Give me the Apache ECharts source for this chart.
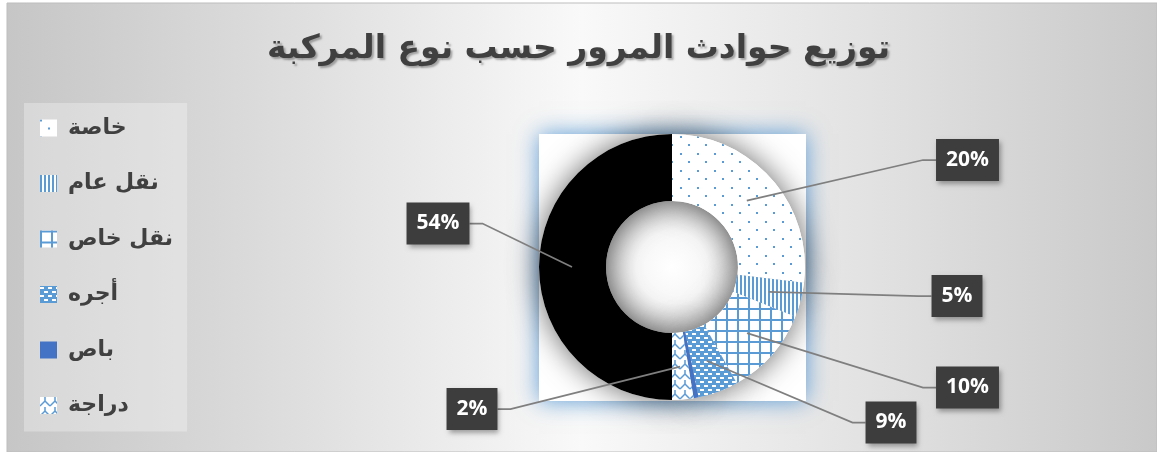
<!DOCTYPE html>
<html>
<head>
<meta charset="utf-8">
<script src="https://cdn.jsdelivr.net/npm/echarts@6/dist/echarts.min.js"></script>
<style>
html,body{margin:0;padding:0;background:#fff;}
#chart{width:1157px;height:452px;}
</style>
</head>
<body>
<div id="chart"></div>
<script>
// ---- data ----
const categories = ['خاصة', 'نقل عام', 'نقل خاص', 'أجره', 'باص', 'دراجة', 'أخرى'];
// slice sizes as drawn (share of the ring, %)
const shares = [26.9, 4.2, 10.8, 4.9, 0.6, 2.6, 50];
// percentage labels as printed on the chart
const labelTexts = ['20%', '5%', '10%', '9%', '', '2%', '54%'];
const legendNames = ['خاصة', 'نقل عام', 'نقل خاص', 'أجره', 'باص', 'دراجة'];
const titleText = 'توزيع حوادث المرور حسب نوع المركبة';

// ---- layout / style config ----
const CX = 672, CY = 267, R_IN = 66, R_OUT = 133, LINE_R = 100;
const labelSpots = [[967.5, 160], [957, 296], [967.5, 387.5], [891, 422.5], null, [472, 409], [438, 223.5]];
const BLUE = '#5b9bd5';

function tile(w, h, draw) {
  const c = document.createElement('canvas');
  c.width = w; c.height = h;
  const g = c.getContext('2d');
  draw(g, w, h);
  return c;
}
const patDots = tile(17, 17, (g, w, h) => {
  g.fillStyle = '#fff'; g.fillRect(0, 0, w, h);
  g.fillStyle = BLUE; g.fillRect(0, 0, 2, 2); g.fillRect(8, 8, 2, 2);
});
const patVert = tile(4, 4, (g, w, h) => {
  g.fillStyle = '#fff'; g.fillRect(0, 0, w, h);
  g.fillStyle = BLUE; g.fillRect(0, 0, 2, h);
});
const patGrid = tile(11, 11, (g, w, h) => {
  g.fillStyle = '#fff'; g.fillRect(0, 0, w, h);
  g.fillStyle = BLUE; g.fillRect(0, 0, 2, h); g.fillRect(0, 0, w, 2);
});
const patBrick = tile(8, 8, (g, w, h) => {
  g.fillStyle = BLUE; g.fillRect(0, 0, w, h);
  g.fillStyle = '#fff'; g.fillRect(0, 1, 4, 2); g.fillRect(4, 5, 4, 2);
});
const patZig = tile(10, 10, (g, w, h) => {
  g.fillStyle = '#fff'; g.fillRect(0, 0, w, h);
  g.strokeStyle = BLUE; g.lineWidth = 1.5;
  g.beginPath();
  g.moveTo(5, 0); g.lineTo(5, 4); g.lineTo(0, 9);
  g.moveTo(5, 4); g.lineTo(10, 9);
  g.stroke();
});
const fills = [
  {image: patDots, repeat: 'repeat'},
  {image: patVert, repeat: 'repeat'},
  {image: patGrid, repeat: 'repeat'},
  {image: patBrick, repeat: 'repeat'},
  '#4472c4',
  {image: patZig, repeat: 'repeat'},
  '#000000'
];

const total = shares.reduce((a, b) => a + b, 0);
function midAngle(i) {
  let before = 0;
  for (let k = 0; k < i; k++) before += shares[k];
  return (before + shares[i] / 2) / total * Math.PI * 2;
}

const chart = echarts.init(document.getElementById('chart'), null, {renderer: 'canvas'});
chart.setOption({
  animation: false,
  backgroundColor: 'transparent',
  graphic: {
    elements: [
      {
        type: 'rect', z: -20, silent: true,
        shape: {x: 7, y: 3, width: 1150, height: 449},
        style: {
          fill: new echarts.graphic.LinearGradient(0, 0, 1, 0, [
            {offset: 0, color: '#c6c6c6'},
            {offset: 0.25, color: '#dedede'},
            {offset: 0.5, color: '#f9f9f9'},
            {offset: 0.75, color: '#e2e2e2'},
            {offset: 1, color: '#c9c9c9'}
          ]),
          stroke: '#bdbdbd', lineWidth: 1
        }
      },
      {
        type: 'rect', z: -10, silent: true,
        shape: {x: 539, y: 134, width: 267, height: 267},
        style: {fill: '#ffffff', shadowBlur: 22, shadowColor: 'rgba(91,155,213,1)', shadowOffsetX: 0, shadowOffsetY: 0}
      },
      {
        type: 'circle', z: -5, silent: true,
        shape: {cx: CX, cy: CY, r: R_IN},
        style: {
          fill: new echarts.graphic.RadialGradient(0.5, 0.5, 0.5, [
            {offset: 0, color: '#ffffff'},
            {offset: 0.55, color: '#f6f6f6'},
            {offset: 1, color: '#d4d4d4'}
          ])
        }
      }
    ]
  },
  title: {
    text: titleText,
    left: 'center',
    top: 28,
    textStyle: {
      fontFamily: 'DejaVu Sans', fontWeight: 'bold', fontSize: 33, color: '#404040',
      textShadowColor: 'rgba(0,0,0,0.3)', textShadowBlur: 2, textShadowOffsetX: 2, textShadowOffsetY: 2
    }
  },
  legend: {
    orient: 'vertical',
    left: 24,
    top: 103,
    data: legendNames,
    itemWidth: 17,
    itemHeight: 17,
    itemGap: 31.5,
    icon: 'rect',
    padding: [13, 14, 14, 16],
    backgroundColor: 'rgba(255,255,255,0.3)',
    selectedMode: false,
    textStyle: {fontFamily: 'DejaVu Sans', fontWeight: 'bold', fontSize: 22, color: '#404040', lineHeight: 24, padding: [0, 0, 0, 6]}
  },
  series: [
    {
      type: 'pie',
      silent: true,
      center: [CX, CY],
      radius: [R_IN, R_OUT],
      startAngle: 90,
      clockwise: true,
      z: 1,
      label: {show: false},
      labelLine: {show: false},
      emphasis: {disabled: true},
      itemStyle: {color: '#ffffff', borderWidth: 0, shadowBlur: 30, shadowColor: 'rgba(0,0,0,0.6)'},
      data: shares.map(v => ({value: v}))
    },
    {
      type: 'pie',
      silent: true,
      center: [CX, CY],
      radius: [R_IN, R_OUT],
      startAngle: 90,
      clockwise: true,
      z: 2,
      emphasis: {disabled: true},
      itemStyle: {borderWidth: 0},
      label: {show: false},
      labelLine: {show: false},
      data: categories.map((name, i) => ({name: name, value: shares[i], itemStyle: {color: fills[i]}}))
    },
    {
      type: 'pie',
      silent: true,
      center: [CX, CY],
      radius: [R_IN, R_OUT],
      startAngle: 90,
      clockwise: true,
      avoidLabelOverlap: false,
      z: 3,
      emphasis: {disabled: true},
      itemStyle: {color: 'rgba(0,0,0,0)', borderWidth: 0},
      label: {
        show: true,
        position: 'outside',
        formatter: p => labelTexts[p.dataIndex],
        color: '#ffffff',
        fontFamily: 'Open Sans',
        fontWeight: 'bold',
        fontSize: 21,
        lineHeight: 22,
        backgroundColor: '#3d3d3d',
        padding: [10, 10, 10, 10],
        shadowBlur: 5,
        shadowOffsetX: 2,
        shadowOffsetY: 3,
        shadowColor: 'rgba(0,0,0,0.35)'
      },
      labelLine: {show: true, smooth: false, lineStyle: {color: '#7f7f7f', width: 1.75}},
      labelLayout: function (p) {
        const i = p.dataIndex;
        const spot = labelSpots[i];
        if (!spot) return {};
        const w = p.labelRect.width;
        const a = midAngle(i);
        const sx = CX + LINE_R * Math.sin(a);
        const sy = CY - LINE_R * Math.cos(a);
        const right = spot[0] > CX;
        const edge = right ? spot[0] - w / 2 : spot[0] + w / 2;
        const bend = right ? edge - 13 : edge + 13;
        return {
          x: spot[0], y: spot[1], align: 'center', verticalAlign: 'middle',
          labelLinePoints: [[sx, sy], [bend, spot[1]], [edge, spot[1]]]
        };
      },
      data: shares.map((v, i) => {
        const d = {value: v};
        if (!labelTexts[i]) { d.label = {show: false}; d.labelLine = {show: false}; }
        return d;
      })
    }
  ]
});
</script>
</body>
</html>
